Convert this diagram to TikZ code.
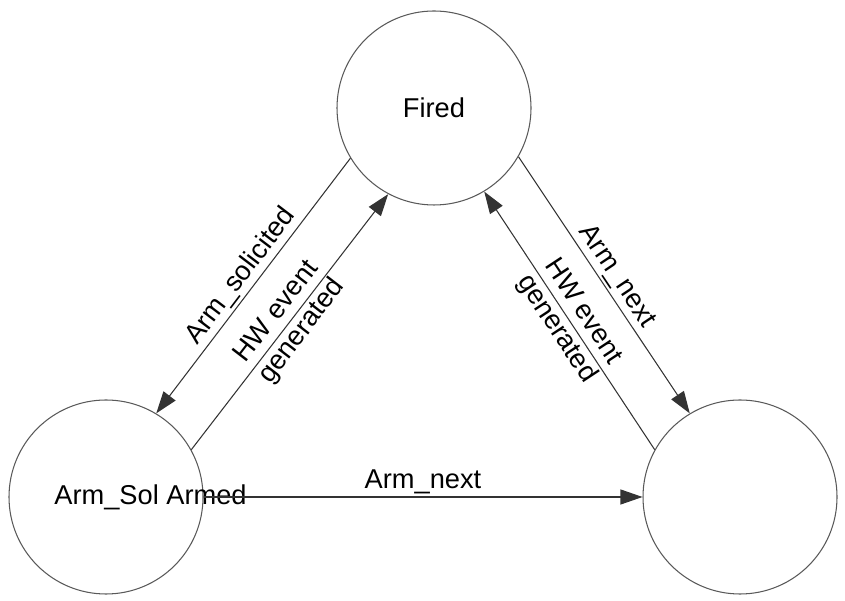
\documentclass[tikz,border=0pt]{standalone}
\usepackage{fontspec}
\setmainfont{Liberation Sans}
\usetikzlibrary{arrows.meta,positioning}
\newcommand{\statefont}{\fontsize{15.5}{18}\selectfont}
\tikzset{
  stnode/.style={circle, draw=black!65, line width=0.6pt, minimum size=3.88cm, inner sep=0pt, font=\statefont},
  tarr/.style={-{Triangle[length=4.4mm, width=3mm]}, black!80, line width=0.6pt},
  tlab/.style={font=\statefont, text=black, sloped, midway, inner sep=1.5pt},
}
\begin{document}
\begin{tikzpicture}
\useasboundingbox (0,0) rectangle (16.9,12.02);
% states
\node[stnode] (fired) at (8.68,9.86) {Fired};
\node[stnode, label={[font=\statefont, xshift=0.89cm]center:Arm\_Sol Armed}] (armed) at (2.12,2.08) {};
\node[stnode] (next) at (14.80,2.08) {};
% transitions
\draw[tarr] (fired.211) -- node[tlab, above] {Arm\_solicited} (armed.59);
\draw[tarr] (armed.29) -- node[tlab, align=center] {HW event\\generated} (fired.242);
\draw[tarr] (fired.330) -- node[tlab, above] {Arm\_next} (next.121);
\draw[tarr] (next.151) -- node[tlab, align=center] {HW event\\generated} (fired.301);
\draw[tarr] (armed) -- node[tlab, above] {Arm\_next} (next);
\end{tikzpicture}
\end{document}
